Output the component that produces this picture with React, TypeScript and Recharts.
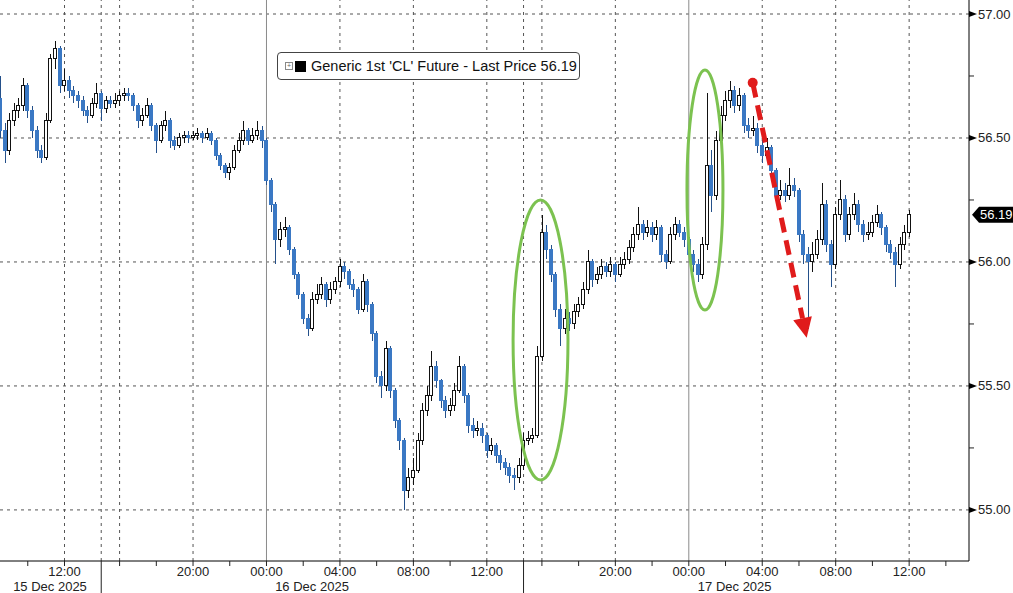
import React from 'react'
import { ComposedChart, Bar, XAxis, YAxis, ReferenceLine, ReferenceArea } from 'recharts'

// 15-minute bars, time measured in trading hours from 15 Dec 12:00 (session break removed)
const firstBarHour = -3.5
const barStep = 0.25

const opens = [
  56.66, 56.53, 56.45, 56.57, 56.61, 56.63, 56.71, 56.61, 56.53, 56.45,
  56.42, 56.57, 56.82, 56.86, 56.71, 56.73, 56.69, 56.67, 56.65, 56.61,
  56.59, 56.64, 56.68, 56.62, 56.65, 56.64, 56.65, 56.67, 56.68, 56.67,
  56.63, 56.57, 56.59, 56.63, 56.55, 56.49, 56.55, 56.57, 56.49, 56.47,
  56.50, 56.51, 56.50, 56.51, 56.52, 56.50, 56.52, 56.49, 56.43, 56.39,
  56.36, 56.38, 56.45, 56.49, 56.53, 56.49, 56.51, 56.53, 56.49, 56.33,
  56.23, 56.09, 56.13, 56.14, 56.05, 55.95, 55.87, 55.77, 55.73, 55.85,
  55.87, 55.91, 55.85, 55.89, 55.92, 55.98, 55.96, 55.91, 55.89, 55.81,
  55.92, 55.83, 55.71, 55.54, 55.50, 55.65, 55.48, 55.36, 55.28, 55.08,
  55.13, 55.16, 55.28, 55.40, 55.46, 55.58, 55.52, 55.44, 55.40, 55.42,
  55.48, 55.58, 55.46, 55.34, 55.32, 55.33, 55.30, 55.24, 55.26, 55.22,
  55.19, 55.17, 55.14, 55.13, 55.18, 55.28, 55.29, 55.30, 55.62, 56.12,
  56.05, 55.95, 55.81, 55.73, 55.77, 55.75, 55.80, 55.83, 55.89, 56.00,
  55.93, 55.95, 55.98, 55.96, 55.99, 55.95, 55.99, 56.01, 56.06, 56.11,
  56.15, 56.12, 56.14, 56.11, 56.14, 56.03, 56.00, 56.11, 56.15, 56.12,
  56.09, 56.03, 55.99, 55.95, 56.07, 56.39, 56.27, 56.49, 56.59, 56.65,
  56.69, 56.63, 56.67, 56.55, 56.53, 56.54, 56.47, 56.43, 56.46, 56.37,
  56.27, 56.29, 56.27, 56.31, 56.29, 56.11, 56.03, 56.00, 56.03, 56.09,
  56.23, 56.07, 55.99, 56.19, 56.25, 56.11, 56.19, 56.23, 56.15, 56.11,
  56.12, 56.16, 56.19, 56.14, 56.07, 56.04, 55.99, 56.07, 56.12,
]

const highs = [
  56.75, 56.56, 56.60, 56.64, 56.66, 56.74, 56.72, 56.63, 56.55, 56.47,
  56.60, 56.84, 56.89, 56.87, 56.78, 56.75, 56.71, 56.69, 56.67, 56.63,
  56.66, 56.72, 56.69, 56.67, 56.67, 56.68, 56.69, 56.70, 56.70, 56.68,
  56.64, 56.62, 56.66, 56.64, 56.56, 56.57, 56.61, 56.58, 56.51, 56.52,
  56.53, 56.53, 56.53, 56.54, 56.53, 56.54, 56.53, 56.50, 56.44, 56.40,
  56.40, 56.47, 56.52, 56.57, 56.54, 56.54, 56.57, 56.55, 56.50, 56.34,
  56.24, 56.16, 56.18, 56.15, 56.06, 55.96, 55.88, 55.79, 55.88, 55.91,
  55.94, 55.92, 55.92, 55.94, 56.01, 56.00, 55.97, 55.93, 55.90, 55.95,
  55.93, 55.84, 55.72, 55.56, 55.68, 55.66, 55.49, 55.37, 55.29, 55.17,
  55.21, 55.31, 55.43, 55.50, 55.64, 55.60, 55.53, 55.46, 55.45, 55.51,
  55.62, 55.59, 55.47, 55.37, 55.36, 55.35, 55.31, 55.29, 55.27, 55.24,
  55.21, 55.19, 55.17, 55.21, 55.31, 55.32, 55.33, 55.66, 56.19, 56.15,
  56.07, 55.96, 55.83, 55.81, 55.80, 55.83, 55.86, 55.92, 56.05, 56.01,
  55.98, 56.01, 56.00, 56.02, 56.00, 56.02, 56.04, 56.09, 56.14, 56.22,
  56.17, 56.17, 56.16, 56.17, 56.15, 56.05, 56.14, 56.18, 56.17, 56.14,
  56.10, 56.05, 56.01, 56.10, 56.68, 56.45, 56.53, 56.63, 56.69, 56.73,
  56.71, 56.70, 56.68, 56.58, 56.59, 56.56, 56.49, 56.50, 56.47, 56.38,
  56.33, 56.32, 56.38, 56.34, 56.30, 56.13, 56.06, 56.08, 56.13, 56.32,
  56.25, 56.09, 56.22, 56.33, 56.27, 56.22, 56.28, 56.25, 56.17, 56.16,
  56.19, 56.23, 56.20, 56.15, 56.09, 56.06, 56.10, 56.15, 56.21,
]

const lows = [
  56.50, 56.40, 56.43, 56.55, 56.58, 56.61, 56.58, 56.50, 56.42, 56.40,
  56.41, 56.56, 56.78, 56.68, 56.69, 56.66, 56.64, 56.62, 56.59, 56.56,
  56.58, 56.62, 56.57, 56.60, 56.62, 56.62, 56.63, 56.65, 56.65, 56.61,
  56.54, 56.55, 56.58, 56.53, 56.44, 56.48, 56.53, 56.46, 56.45, 56.46,
  56.48, 56.48, 56.49, 56.49, 56.48, 56.49, 56.47, 56.41, 56.37, 56.34,
  56.33, 56.37, 56.44, 56.47, 56.47, 56.48, 56.49, 56.46, 56.31, 56.20,
  55.99, 56.06, 56.10, 56.03, 55.93, 55.85, 55.75, 55.70, 55.72, 55.83,
  55.85, 55.82, 55.83, 55.87, 55.90, 55.93, 55.89, 55.86, 55.79, 55.80,
  55.80, 55.68, 55.51, 55.45, 55.48, 55.45, 55.33, 55.24, 55.00, 55.05,
  55.10, 55.15, 55.26, 55.38, 55.44, 55.49, 55.41, 55.37, 55.38, 55.40,
  55.47, 55.43, 55.31, 55.29, 55.30, 55.27, 55.21, 55.22, 55.19, 55.16,
  55.14, 55.11, 55.08, 55.11, 55.16, 55.26, 55.27, 55.29, 55.60, 56.01,
  55.92, 55.78, 55.66, 55.71, 55.72, 55.73, 55.78, 55.81, 55.87, 55.90,
  55.91, 55.93, 55.94, 55.94, 55.92, 55.94, 55.97, 55.99, 56.04, 56.09,
  56.09, 56.10, 56.08, 56.09, 56.00, 55.97, 55.99, 56.09, 56.10, 56.06,
  56.00, 55.96, 55.92, 55.93, 56.05, 56.20, 56.25, 56.47, 56.57, 56.62,
  56.60, 56.61, 56.52, 56.50, 56.51, 56.44, 56.40, 56.41, 56.34, 56.24,
  56.25, 56.24, 56.25, 56.26, 56.08, 55.99, 55.73, 55.96, 56.01, 56.07,
  56.04, 55.90, 55.97, 56.17, 56.08, 56.09, 56.17, 56.12, 56.08, 56.09,
  56.10, 56.14, 56.11, 56.04, 56.01, 55.90, 55.97, 56.05, 56.10,
]

const closes = [
  56.53, 56.45, 56.57, 56.61, 56.63, 56.71, 56.61, 56.53, 56.45, 56.42,
  56.57, 56.82, 56.86, 56.71, 56.73, 56.69, 56.67, 56.65, 56.61, 56.59,
  56.64, 56.68, 56.62, 56.65, 56.64, 56.65, 56.67, 56.68, 56.67, 56.63,
  56.57, 56.59, 56.63, 56.55, 56.49, 56.55, 56.57, 56.49, 56.47, 56.50,
  56.51, 56.50, 56.51, 56.52, 56.50, 56.52, 56.49, 56.43, 56.39, 56.36,
  56.38, 56.45, 56.49, 56.53, 56.49, 56.51, 56.53, 56.49, 56.33, 56.23,
  56.09, 56.13, 56.14, 56.05, 55.95, 55.87, 55.77, 55.73, 55.85, 55.87,
  55.91, 55.85, 55.89, 55.92, 55.98, 55.96, 55.91, 55.89, 55.81, 55.92,
  55.83, 55.71, 55.54, 55.50, 55.65, 55.48, 55.36, 55.28, 55.08, 55.13,
  55.16, 55.28, 55.40, 55.46, 55.58, 55.52, 55.44, 55.40, 55.42, 55.48,
  55.58, 55.46, 55.34, 55.32, 55.33, 55.30, 55.24, 55.26, 55.22, 55.19,
  55.17, 55.14, 55.13, 55.18, 55.28, 55.29, 55.30, 55.62, 56.12, 56.05,
  55.95, 55.81, 55.73, 55.77, 55.75, 55.80, 55.83, 55.89, 56.00, 55.93,
  55.95, 55.98, 55.96, 55.99, 55.95, 55.99, 56.01, 56.06, 56.11, 56.15,
  56.12, 56.14, 56.11, 56.14, 56.03, 56.00, 56.11, 56.15, 56.12, 56.09,
  56.03, 55.99, 55.95, 56.07, 56.39, 56.27, 56.49, 56.59, 56.65, 56.69,
  56.63, 56.67, 56.55, 56.53, 56.54, 56.47, 56.43, 56.46, 56.37, 56.27,
  56.29, 56.27, 56.31, 56.29, 56.11, 56.03, 56.00, 56.03, 56.09, 56.23,
  56.07, 55.99, 56.19, 56.25, 56.11, 56.19, 56.23, 56.15, 56.11, 56.12,
  56.16, 56.19, 56.14, 56.07, 56.04, 55.99, 56.07, 56.12, 56.19,
]

const lastPrice = 56.19
const legendLabel = "Generic 1st 'CL' Future - Last Price 56.19"

const majorPriceTicks = [55, 55.5, 56, 56.5, 57]
const minorPriceTicks = [55.25, 55.75, 56.25, 56.75]

const hourTicks = [-2, 0, 3, 5, 7, 9, 11, 13, 15, 17, 19, 21, 23, 26, 28, 30, 32, 34, 36, 38, 40, 42, 44, 46, 48]
const hourLabels: Record<number, string> = {
  0: '12:00', 7: '20:00', 11: '00:00', 15: '04:00', 19: '08:00', 23: '12:00',
  30: '20:00', 34: '00:00', 38: '04:00', 42: '08:00', 46: '12:00',
}
const gridHours = [0, 3, 7, 15, 19, 23, 26, 30, 38, 42, 46]
const dayStartHours = [11, 34]
const sessionBreakHours = [2, 25]
const dateLabelHours = [-0.79, 13.48, 36.5]
const dateLabels = ['15 Dec 2025', '16 Dec 2025', '17 Dec 2025']

const candles = closes.map((close, i) => ({
  t: firstBarHour + i * barStep,
  open: opens[i],
  high: highs[i],
  low: lows[i],
  close,
}))

const axisFont = '"Liberation Sans", Arial, sans-serif'
const upColor = '#111111'
const downColor = '#3a78c4'
const circleColor = '#7cc250'
const arrowColor = '#e01b1b'

function Candle(props: any) {
  const { x, y, width, height, payload } = props
  if (!payload || !(height > 0)) return null
  const { open, close, high, low } = payload
  const k = height / (high - low)
  const oy = y + (high - open) * k
  const cy = y + (high - close) * k
  const top = Math.min(oy, cy)
  const h = Math.max(Math.abs(oy - cy), 1)
  const left = Math.round(x + width / 2 - 2)
  const up = close >= open
  return (
    <g shapeRendering="crispEdges">
      <line x1={left + 2} x2={left + 2} y1={y} y2={y + height} stroke={up ? upColor : '#24508a'} strokeWidth={1} />
      <rect
        x={left + 0.5}
        y={top}
        width={3}
        height={h}
        fill={up ? '#ffffff' : downColor}
        stroke={up ? upColor : downColor}
        strokeWidth={1}
      />
    </g>
  )
}

function TimeTick(props: any) {
  const { x, y, payload } = props
  const v = payload.value
  const di = dateLabelHours.indexOf(v)
  if (di >= 0) {
    return (
      <text x={x} y={y + 30} textAnchor="middle" fontSize={13} fill="#222" fontFamily={axisFont}>
        {dateLabels[di]}
      </text>
    )
  }
  if (sessionBreakHours.includes(v)) {
    return <line x1={x} x2={x} y1={y} y2={y + 32} stroke="#222" />
  }
  const label = hourLabels[v]
  return (
    <g>
      <line x1={x} x2={x} y1={y} y2={y + 5} stroke="#222" />
      {label && (
        <text x={x} y={y + 15} textAnchor="middle" fontSize={13} fill="#222" fontFamily={axisFont}>
          {label}
        </text>
      )}
    </g>
  )
}

function PriceTick(props: any) {
  const { x, y, payload } = props
  const v = payload.value
  if (v === lastPrice) {
    return (
      <g>
        <path d={`M${x + 3},${y} L${x + 10},${y - 8} L${x + 44},${y - 8} L${x + 44},${y + 8} L${x + 10},${y + 8} Z`} fill="#000" />
        <text x={x + 11} y={y + 4.5} fontSize={13} fill="#fff" fontFamily={axisFont}>
          {lastPrice.toFixed(2)}
        </text>
      </g>
    )
  }
  if (minorPriceTicks.includes(v)) {
    return <line x1={x} x2={x + 5} y1={y} y2={y} stroke="#222" />
  }
  return (
    <g>
      <path d={`M${x},${y - 3} L${x + 8},${y} L${x},${y + 3} Z`} fill="#000" />
      <text x={x + 9} y={y + 4.5} fontSize={13} fill="#222" fontFamily={axisFont}>
        {v.toFixed(2)}
      </text>
    </g>
  )
}

function Ellipse(props: any) {
  const { x, y, width, height } = props
  if (x == null) return null
  return (
    <ellipse
      cx={x + width / 2}
      cy={y + height / 2}
      rx={width / 2}
      ry={height / 2}
      fill="none"
      stroke={circleColor}
      strokeWidth={3}
    />
  )
}

function DashedArrow(props: any) {
  const { x1, y1, x2, y2 } = props
  if (x1 == null) return null
  const dx = x2 - x1
  const dy = y2 - y1
  const len = Math.sqrt(dx * dx + dy * dy)
  const ux = dx / len
  const uy = dy / len
  const head = 20
  const bx = x2 - ux * head
  const by = y2 - uy * head
  const px = -uy * 9.5
  const py = ux * 9.5
  return (
    <g>
      <circle cx={x1} cy={y1} r={5} fill={arrowColor} />
      <line x1={x1} y1={y1} x2={bx} y2={by} stroke={arrowColor} strokeWidth={5} strokeDasharray="15 8" />
      <path d={`M${x2},${y2} L${bx + px},${by + py} L${bx - px},${by - py} Z`} fill={arrowColor} />
    </g>
  )
}

export default function App() {
  const priceTicks = [...majorPriceTicks, ...minorPriceTicks, lastPrice].sort((a, b) => a - b)
  const timeTicks = [...hourTicks, ...sessionBreakHours, ...dateLabelHours].sort((a, b) => a - b)
  return (
    <div style={{ position: 'fixed', left: 0, top: 0, width: 1013, height: 593, background: '#fff', fontFamily: axisFont }}>
      <ComposedChart width={1013} height={593} data={candles} margin={{ top: 0, right: 0, bottom: 0, left: 0 }}>
        {majorPriceTicks.map((p) => (
          <ReferenceLine key={`h${p}`} y={p} stroke="#555" strokeDasharray="3 4" zIndex={-100} />
        ))}
        {gridHours.map((h) => (
          <ReferenceLine key={`v${h}`} x={h} stroke="#555" strokeDasharray="3 4" zIndex={-100} />
        ))}
        {sessionBreakHours.map((h) => (
          <ReferenceLine key={`s${h}`} x={h} stroke="#555" strokeDasharray="3 4" zIndex={-100} />
        ))}
        {dayStartHours.map((h) => (
          <ReferenceLine key={`d${h}`} x={h} stroke="#8a8a8a" zIndex={-100} />
        ))}
        <XAxis
          dataKey="t"
          type="number"
          domain={[-3.513, 49.26]}
          allowDataOverflow
          ticks={timeTicks}
          interval={0}
          tick={<TimeTick />}
          tickLine={false}
          tickSize={0}
          tickMargin={0}
          axisLine={{ stroke: '#000' }}
          height={32}
        />
        <YAxis
          orientation="right"
          type="number"
          domain={[54.794, 57.0565]}
          allowDataOverflow
          ticks={priceTicks}
          interval={0}
          tick={<PriceTick />}
          tickLine={false}
          tickSize={0}
          tickMargin={0}
          axisLine={{ stroke: '#000' }}
          width={44}
        />
        <Bar
          dataKey={(d: any) => [d.low, d.high]}
          barSize={4}
          shape={<Candle />}
          isAnimationActive={false}
        />
        <ReferenceArea x1={24.43} x2={27.42} y1={55.121} y2={56.25} shape={<Ellipse />} ifOverflow="visible" zIndex={2000} />
        <ReferenceArea x1={33.9} x2={35.86} y1={55.806} y2={56.774} shape={<Ellipse />} ifOverflow="visible" zIndex={2000} />
        <ReferenceLine
          segment={[{ x: 37.48, y: 56.723 }, { x: 40.42, y: 55.694 }]}
          shape={(p: any) => <DashedArrow {...p} />}
          ifOverflow="visible"
          zIndex={2000}
        />
      </ComposedChart>
      <div
        style={{
          position: 'absolute',
          left: 277,
          top: 52,
          width: 301,
          height: 26,
          border: '1px solid #444',
          borderRadius: 4,
          background: '#fff',
          display: 'flex',
          alignItems: 'center',
          boxSizing: 'content-box',
        }}
      >
        <div style={{ width: 6, height: 6, border: '1px solid #888', marginLeft: 7, position: 'relative', fontSize: 7, lineHeight: '6px', textAlign: 'center', color: '#666' }}>+</div>
        <div style={{ width: 11, height: 11, background: '#000', marginLeft: 2 }} />
        <span style={{ marginLeft: 5, fontSize: 14.5, color: '#111', whiteSpace: 'nowrap' }}>{legendLabel}</span>
      </div>
    </div>
  )
}
